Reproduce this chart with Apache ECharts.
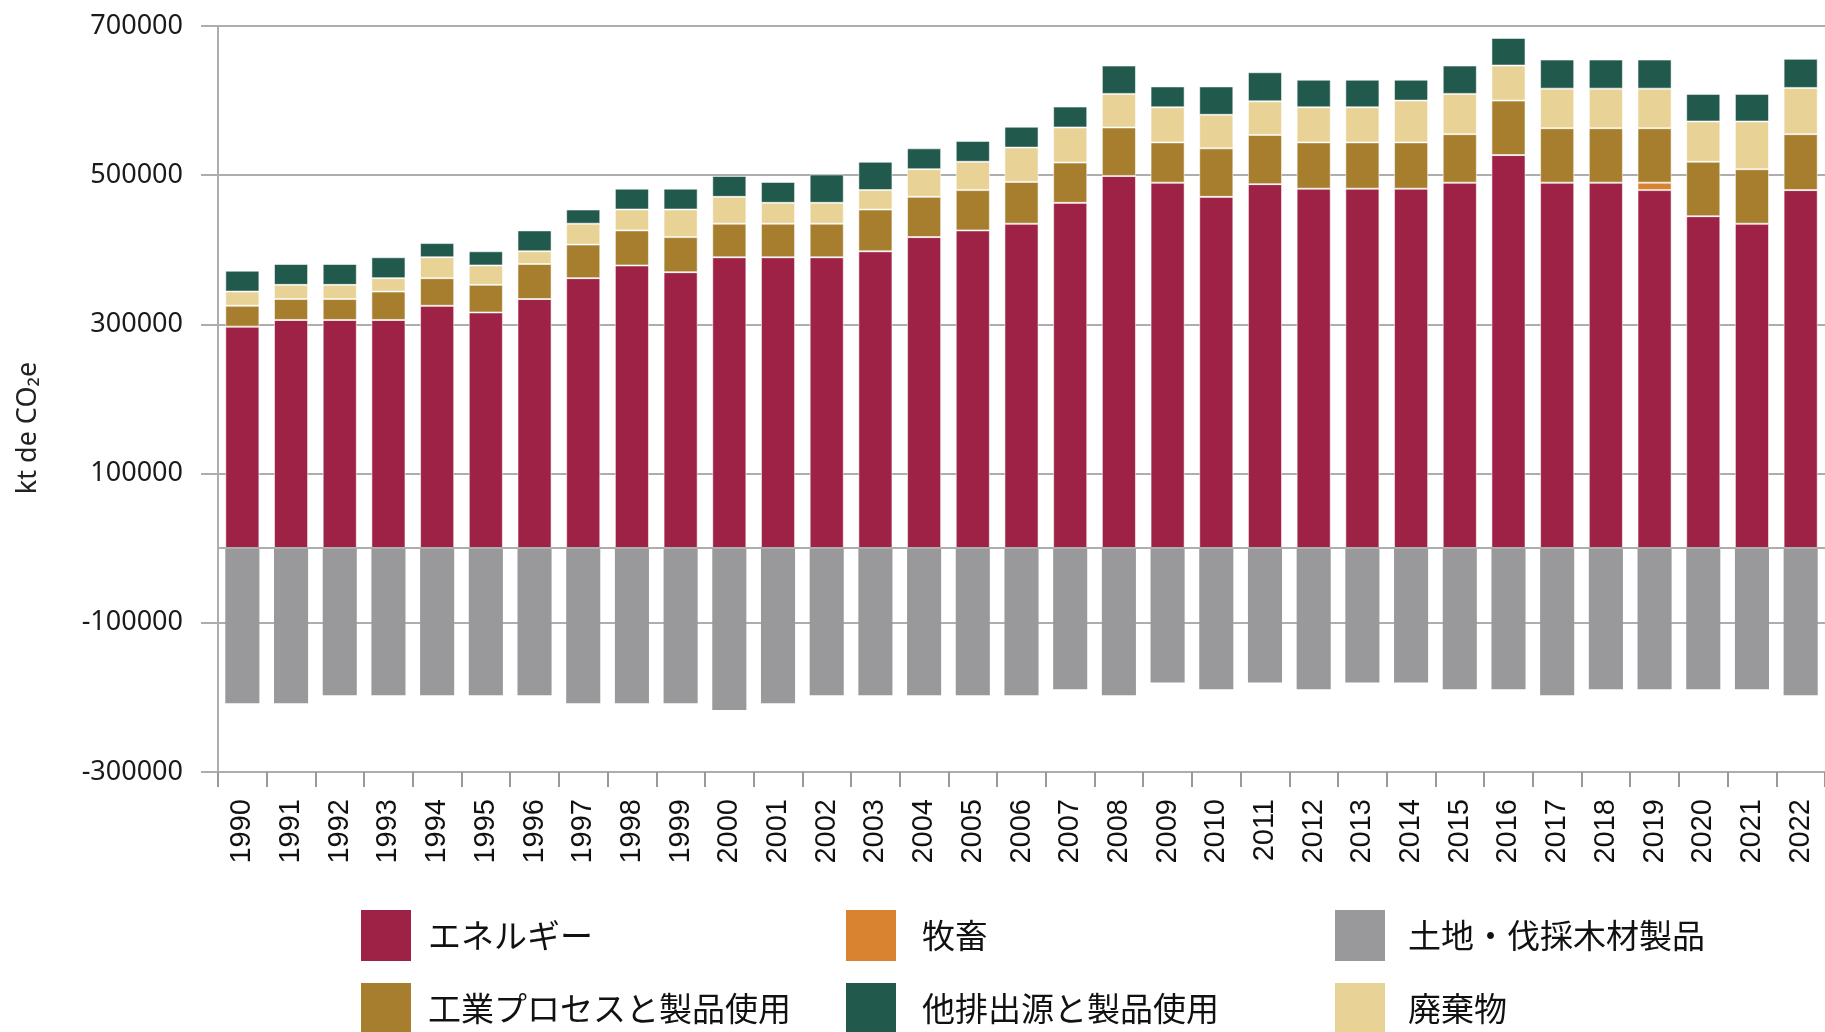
<!DOCTYPE html>
<html>
<head>
<meta charset="utf-8">
<script src="https://cdn.jsdelivr.net/npm/echarts@6/dist/echarts.min.js"></script>
<style>
html, body { margin: 0; padding: 0; background: #fff; }
#chart { width: 1825px; height: 1032px; }
</style>
</head>
<body>
<div id="chart"></div>
<script>
// データ (kt CO2e, 千単位)
const years = ['1990','1991','1992','1993','1994','1995','1996','1997','1998','1999','2000','2001','2002','2003','2004','2005','2006','2007','2008','2009','2010','2011','2012','2013','2014','2015','2016','2017','2018','2019','2020','2021','2022'];
const energy    = [297,306,306,306,325,316,334,362,379,370,390,390,390,398,417,426,435,463,499,490,471,488,482,482,482,490,527,490,490,480,445,435,480];
const livestock = [0,0,0,0,0,0,0,0,0,0,0,0,0,0,0,0,0,0,0,0,0,0,0,0,0,0,0,0,0,10,0,0,0];
const industry  = [28,28,28,38,37,37,47,45,47,47,45,45,45,56,54,54,56,54,65,54,65,66,62,62,62,65,73,73,73,73,73,73,75];
const waste     = [19,19,19,18,28,26,17,28,28,37,36,28,28,26,37,38,46,47,45,47,45,45,47,47,56,54,47,53,53,53,54,64,62];
const other     = [28,28,28,28,19,19,28,19,28,28,28,28,38,38,28,28,28,28,38,28,38,39,37,37,28,38,37,39,39,39,37,37,39];
const land      = [-208,-208,-197,-197,-197,-197,-197,-208,-208,-208,-217,-208,-197,-197,-197,-197,-197,-189,-197,-180,-189,-180,-189,-180,-180,-189,-189,-197,-189,-189,-189,-189,-197];
const yTicks = [-300000, -100000, 100000, 300000, 500000, 700000];

const k = arr => arr.map(v => v * 1000);

const gridGray = '#adadad';
const segBorder = { borderColor: 'rgba(255,255,255,0.55)', borderWidth: 1 };

function barSeries(name, values, color) {
    return {
        name: name,
        type: 'bar',
        stack: 'total',
        barWidth: '70%',
        data: k(values),
        itemStyle: Object.assign({ color: color }, segBorder)
    };
}

const series = [
    barSeries('エネルギー', energy, '#9E2246'),
    barSeries('牧畜', livestock, '#D9822F'),
    barSeries('工業プロセスと製品使用', industry, '#A67E2D'),
    barSeries('廃棄物', waste, '#E8D295'),
    barSeries('他排出源と製品使用', other, '#21594D'),
    barSeries('土地・伐採木材製品', land, '#99999B')
];
series[5].itemStyle = { color: '#99999B' };
// ゼロ線
series[5].markLine = {
    silent: true,
    symbol: 'none',
    label: { show: false },
    lineStyle: { color: gridGray, width: 2, type: 'solid' },
    data: [{ yAxis: 0 }]
};

// 凡例の配置 (3列 x 2行)
const legendSlots = [
    { name: 'エネルギー', left: 361, top: 910, gap: 12 },
    { name: '牧畜', left: 846, top: 910, gap: 21 },
    { name: '土地・伐採木材製品', left: 1335, top: 910, gap: 18 },
    { name: '工業プロセスと製品使用', left: 361, top: 983, gap: 12 },
    { name: '他排出源と製品使用', left: 846, top: 983, gap: 21 },
    { name: '廃棄物', left: 1335, top: 983, gap: 18 }
];

const legends = legendSlots.map(s => ({
    left: s.left,
    top: s.top,
    padding: 0,
    icon: 'rect',
    itemWidth: 50,
    itemHeight: 51,
    selectedMode: false,
    itemStyle: { borderWidth: 0 },
    data: [s.name],
    textStyle: {
        fontFamily: 'Noto Sans CJK JP',
        fontSize: 33,
        color: '#111',
        padding: [0, 0, 0, s.gap]
    }
}));

function init() {
    const chart = echarts.init(document.getElementById('chart'), null, { renderer: 'canvas' });
    chart.setOption({
        animation: false,
        backgroundColor: '#fff',
        grid: { left: 218, top: 26, width: 1614, height: 746, containLabel: false },
        legend: legends,
        xAxis: {
            type: 'category',
            data: years,
            position: 'bottom',
            axisLine: { onZero: false, lineStyle: { color: gridGray, width: 2 } },
            axisTick: { show: true, length: 15, alignWithLabel: false, lineStyle: { color: '#999', width: 2 } },
            axisLabel: {
                rotate: 90,
                margin: 27,
                fontFamily: 'Liberation Sans',
                fontSize: 29,
                color: '#111'
            }
        },
        yAxis: {
            type: 'value',
            min: yTicks[0],
            max: yTicks[yTicks.length - 1],
            interval: 200000,
            name: 'kt de CO₂e',
            nameLocation: 'middle',
            nameRotate: 90,
            nameGap: 176,
            nameTextStyle: { fontFamily: 'Noto Sans', fontSize: 27, color: '#222', padding: [0, 58, 0, 0] },
            axisLine: { show: true, lineStyle: { color: gridGray, width: 2 } },
            axisTick: { show: true, inside: false, length: 17, lineStyle: { color: gridGray, width: 2 } },
            splitLine: { show: true, lineStyle: { color: gridGray, width: 2 } },
            axisLabel: {
                margin: 35,
                fontFamily: 'Noto Sans',
                fontSize: 27,
                color: '#1a1a1a',
                formatter: v => String(v)
            }
        },
        series: series
    });
}

window.addEventListener('DOMContentLoaded', init);
</script>
</body>
</html>
